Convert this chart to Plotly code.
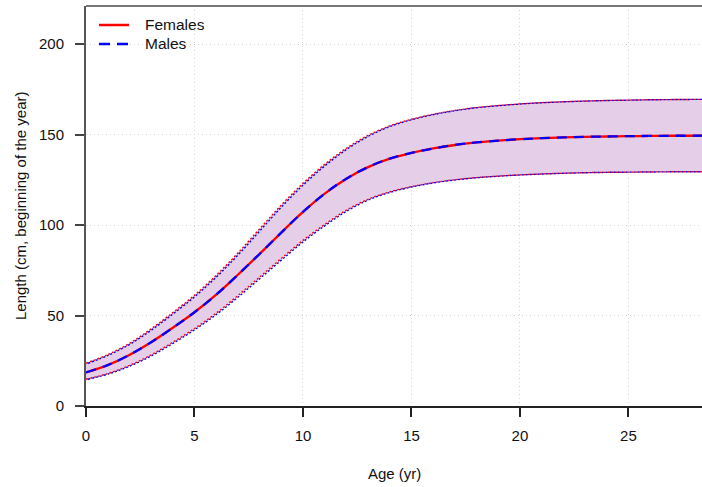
import plotly.graph_objects as go

ages = list(range(0, 31))
length_mean = [18.6, 22.6, 28.2, 35.2, 43.2, 51.8, 61.5, 72.5, 84.0, 95.8,
               107.2, 117.3, 125.6, 132.0, 136.7, 139.8, 142.3, 144.2, 145.6, 146.6,
               147.4, 148.0, 148.4, 148.7, 148.9, 149.1, 149.2, 149.3, 149.3, 149.4, 149.4]
length_upper = [23.6, 28.4, 34.6, 42.6, 51.6, 61.2, 72.2, 84.5, 97.8, 111.0,
                123.0, 133.5, 142.4, 149.5, 154.8, 158.4, 161.2, 163.3, 164.9, 166.0,
                166.9, 167.6, 168.1, 168.5, 168.8, 169.0, 169.2, 169.3, 169.4, 169.5, 169.5]
length_lower = [14.8, 17.9, 22.4, 28.2, 35.2, 42.8, 51.3, 61.0, 71.2, 81.5,
                91.5, 100.3, 108.2, 114.2, 118.3, 121.2, 123.4, 125.0, 126.2, 127.0,
                127.7, 128.2, 128.6, 128.9, 129.1, 129.2, 129.3, 129.4, 129.4, 129.5, 129.5]

x_ticks = [0, 5, 10, 15, 20, 25]
y_ticks = [0, 50, 100, 150, 200]
legend_names = ["Females", "Males"]
legend_colors = ["red", "blue"]
legend_dashes = ["solid", "11px,7px"]

FONT = "Liberation Sans, Arial, sans-serif"
FS = 15
BAND = "rgb(228,206,232)"
MAIN_DASH = "10px,7px"

fig = go.Figure()

# shaded band
fig.add_trace(go.Scatter(x=ages, y=length_lower, mode="lines", line=dict(width=0, shape="spline"),
                         showlegend=False, hoverinfo="skip"))
fig.add_trace(go.Scatter(x=ages, y=length_upper, mode="lines", line=dict(width=0, shape="spline"),
                         fill="tonexty", fillcolor=BAND, showlegend=False, hoverinfo="skip"))

# band borders: red dotted (females) and blue dotted (males) overlapping
for ys in (length_upper, length_lower):
    fig.add_trace(go.Scatter(x=ages, y=ys, mode="lines",
                             line=dict(color="red", width=1.4, shape="spline", dash="2px,2px"),
                             showlegend=False, hoverinfo="skip"))
    fig.add_trace(go.Scatter(x=[a + 0.09 for a in ages], y=ys, mode="lines",
                             line=dict(color="blue", width=1.4, shape="spline", dash="2px,2px"),
                             showlegend=False, hoverinfo="skip"))

# main curves
fig.add_trace(go.Scatter(x=ages, y=length_mean, mode="lines", name="Females", showlegend=False,
                         line=dict(color="red", width=2.3, shape="spline")))
fig.add_trace(go.Scatter(x=ages, y=length_mean, mode="lines", name="Males", showlegend=False,
                         line=dict(color="blue", width=2.3, shape="spline", dash=MAIN_DASH)))

# plot area: x 86..702, y 6..406 (px)
PW, PH = 616, 400
def px_x(p):
    return (p - 86) / PW
def px_y(p):
    return (406 - p) / PH

shapes = [dict(type="line", xref="paper", yref="paper", x0=0, x1=1, y0=1, y1=1,
               line=dict(color="#777", width=2))]
annotations = []
leg_py = [25, 44]
for name, col, dash, py in zip(legend_names, legend_colors, legend_dashes, leg_py):
    shapes.append(dict(type="line", xref="paper", yref="paper", x0=px_x(99), x1=px_x(129),
                       y0=px_y(py), y1=px_y(py), line=dict(color=col, width=2.5, dash=dash)))
    annotations.append(dict(text=name, xref="paper", yref="paper", x=px_x(143), y=px_y(py),
                            xanchor="left", yanchor="middle", showarrow=False,
                            font=dict(family=FONT, size=FS + 0.5, color="#111")))

annotations += [
    dict(text="Age (yr)", xref="paper", yref="paper", x=0.5, y=px_y(473),
         xanchor="center", yanchor="middle", showarrow=False,
         font=dict(family=FONT, size=FS, color="#111")),
    dict(text="Length (cm, beginning of the year)", xref="paper", yref="paper",
         x=px_x(20), y=0.5, xanchor="center", yanchor="middle", textangle=-90,
         showarrow=False, font=dict(family=FONT, size=FS, color="#111")),
]

fig.update_layout(
    width=702, height=487,
    margin=dict(l=86, r=0, t=6, b=81, pad=0),
    paper_bgcolor="white", plot_bgcolor="white",
    font=dict(family=FONT, size=FS, color="#222"),
    showlegend=False,
    xaxis=dict(range=[0, 28.39], tickvals=x_ticks, ticktext=[str(v) for v in x_ticks],
               automargin=False,
               showgrid=True, gridcolor="#d4d4d4", griddash="1px,3px", gridwidth=1.2,
               zeroline=False, showline=True, linecolor="#222", linewidth=1.5,
               ticks="outside", ticklen=9, tickwidth=1.5, tickcolor="#222",
               ticklabelstandoff=6,
               tickfont=dict(family=FONT, size=FS, color="#111")),
    yaxis=dict(range=[0, 221.0], tickvals=y_ticks, ticktext=[str(v) for v in y_ticks],
               automargin=False,
               showgrid=True, gridcolor="#d4d4d4", griddash="1px,3px", gridwidth=1.2,
               zeroline=False, showline=True, linecolor="#555", linewidth=2,
               ticks="outside", ticklen=9, tickwidth=1.5, tickcolor="#444",
               ticklabelstandoff=8,
               tickfont=dict(family=FONT, size=FS, color="#111")),
    shapes=shapes,
    annotations=annotations,
)

# remove the default page margin so the 702x487 figure fills the window exactly
fig.write_html("out.html",
               config={"displayModeBar": False},
               post_script="document.body.style.margin='0';document.body.style.overflow='hidden';")
